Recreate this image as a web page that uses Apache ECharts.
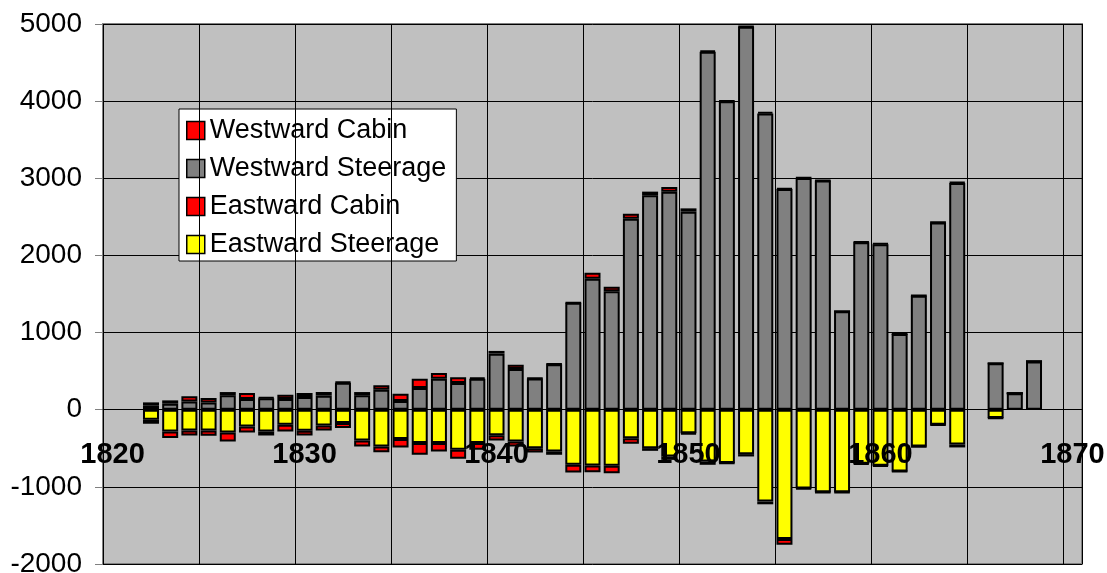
<!DOCTYPE html>
<html>
<head>
<meta charset="utf-8">
<title>Westward and Eastward passengers</title>
<script src="https://cdn.jsdelivr.net/npm/echarts@6/dist/echarts.min.js"></script>
<style>
    html, body { margin: 0; padding: 0; background: #fff; }
    #passenger-chart { width: 1107px; height: 573px; }
</style>
</head>
<body>
<div id="passenger-chart"></div>
<script>
//years on the category axis, 1820 - 1870
var years = [];
for (var y = 1820; y <= 1870; y++) {
    years.push(String(y));
}

//passengers per year, starting 1822 (null = no data)
var firstYear = 1822;
var westSteerage = [52, 78, 108, 95, 186, 139, 150, 139, 165, 182,
    350, 186, 260, 113, 281, 403, 346, 400, 727, 528,
    405, 590, 1385, 1697, 1537, 2476, 2779, 2827, 2567, 4640,
    4000, 4965, 3840, 2860, 3005, 2970, 1275, 2170, 2145, 980,
    1478, 2427, 2940, null, 603, 214, 626];
var westCabin = [43, 43, 65, 57, 43, 78, 10, 56, 52, 48,
    10, 43, 56, 95, 121, 74, 74, 15, 35, 55,
    5, 5, 5, 78, 56, 65, 48, 60, 43, 15,
    5, 5, 20, 10, 5, 5, 0, 8, 10, 3,
    3, 3, 10, null, 0, 0, 0];
var eastSteerage = [130, 281, 268, 268, 294, 216, 281, 195, 273, 204,
    173, 398, 476, 381, 433, 433, 520, 433, 330, 411,
    498, 541, 714, 723, 727, 370, 498, 606, 305, 671,
    690, 576, 1191, 1676, 1020, 1070, 1070, 700, 725, 800,
    476, 195, 451, null, 109, 0, 0];
var eastCabin = [52, 87, 65, 70, 117, 78, 52, 87, 60, 65,
    65, 78, 74, 108, 152, 108, 117, 87, 70, 65,
    56, 43, 100, 87, 96, 72, 35, 44, 10, 43,
    5, 30, 35, 75, 10, 5, 5, 10, 10, 5,
    5, 5, 38, null, 5, 0, 0];

var yMin = -2000;
var yMax = 5000;
var yStep = 1000;

//put a list starting at firstYear onto the full year axis
function toAxis(list, sign)
{
    var out = [];
    for (var i = 0; i < years.length; i++) {
        var k = parseInt(years[i]) - firstYear;
        if (k < 0 || k >= list.length || list[k] === null) {
            out.push(null);
        } else {
            out.push(sign * list[k]);
        }
    }
    return out;
}

function barSeries(name, data, color)
{
    return {
        name      : name,
        type      : 'bar',
        stack     : 'all',
        barWidth  : 16,
        data      : data,
        itemStyle : {color: color, borderColor: '#000', borderWidth: 2}
    };
}

function getEchart()
{
    var myChart = echarts.init(document.getElementById('passenger-chart'));
    var font = 'Arial, "Liberation Sans", sans-serif';
    var gridBottom = 9;
    var options =
    {
        animation : false,
        backgroundColor : '#fff',
        grid : {
            left   : 103,
            right  : 25,
            top    : 24,
            bottom : gridBottom,
            outerBoundsMode : 'none',
            show   : true,
            backgroundColor : '#c0c0c0',
            borderColor : '#808080',
            borderWidth : 2
        },
        legend : {
            orient : 'vertical',
            left   : 179,
            top    : 109,
            padding : [8, 10, 3, 7],
            itemGap : 11,
            itemWidth : 18,
            itemHeight : 18,
            icon : 'rect',
            itemStyle : {borderWidth: 1.5},
            backgroundColor : '#fff',
            borderColor : '#000',
            borderWidth : 1,
            textStyle : {fontFamily: font, fontSize: 27, lineHeight: 27, color: '#000'},
            data : ['Westward Cabin', 'Westward Steerage', 'Eastward Cabin', 'Eastward Steerage']
        },
        xAxis : [
        {
            //drawn above the bars so the year labels stay on top;
            //the split lines fall in the gaps between bars
            type : 'category',
            data : years,
            boundaryGap : true,
            z : 10,
            offset : 0,
            axisLine  : {show: true, onZero: false, lineStyle: {color: '#000', width: 1}},
            axisTick  : {show: false},
            splitLine : {show: true, interval: 4, lineStyle: {color: '#000', width: 1}},
            axisLabel : {
                interval : 9,
                margin   : 31,
                color    : '#000',
                fontFamily : font,
                fontSize : 29,
                fontWeight : 'bold'
            }
        }],
        yAxis : [
        {
            type : 'value',
            min  : yMin,
            max  : yMax,
            interval : yStep,
            axisLine  : {show: false},
            axisTick  : {show: true, length: 8, lineStyle: {color: '#808080'}},
            axisLabel : {
                margin: 21, color: '#000', fontFamily: font, fontSize: 28,
                formatter: function (v) { return String(v); }
            },
            splitLine : {show: true, lineStyle: {color: '#000', width: 1}}
        }],
        series : [
            barSeries('Westward Steerage', toAxis(westSteerage, 1), '#808080'),
            barSeries('Westward Cabin', toAxis(westCabin, 1), '#ff0000'),
            barSeries('Eastward Steerage', toAxis(eastSteerage, -1), '#ffff00'),
            barSeries('Eastward Cabin', toAxis(eastCabin, -1), '#ff0000')
        ]
    };
    myChart.setOption(options, true);

    //v6 keeps category labels at the grid edge, so lift the axis up to the zero line
    var zeroY = myChart.convertToPixel({yAxisIndex: 0}, 0);
    var bottomY = myChart.getHeight() - gridBottom;
    myChart.setOption({xAxis: [{offset: zeroY - bottomY}]});
}

getEchart();
</script>
</body>
</html>
